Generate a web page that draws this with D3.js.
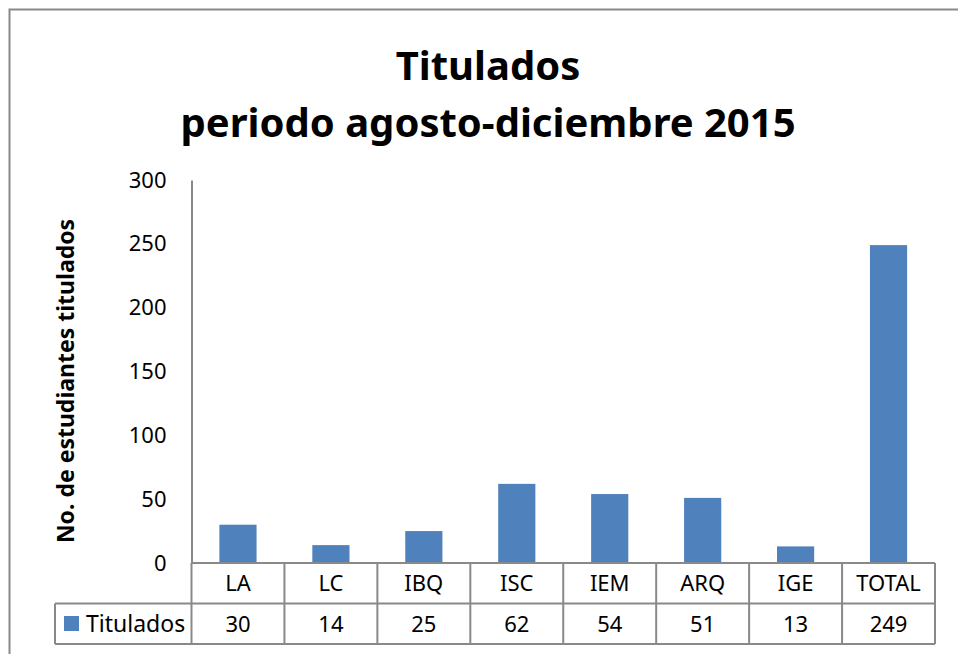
<!DOCTYPE html>
<html>
<head>
<meta charset="utf-8">
<script src="https://cdn.jsdelivr.net/npm/d3@7"></script>
<style>
  body { margin: 0; background: #fff; }
  text { font-family: "Noto Sans", sans-serif; fill: #000; }
</style>
</head>
<body>
<svg></svg>
<script>
// data
var categories = ["LA", "LC", "IBQ", "ISC", "IEM", "ARQ", "IGE", "TOTAL"];
var values = [30, 14, 25, 62, 54, 51, 13, 249];
var yTicks = [0, 50, 100, 150, 200, 250, 300];
var seriesName = "Titulados";
var titleLines = ["Titulados", "periodo agosto-diciembre 2015"];
var yLabel = "No. de estudiantes titulados";

var width = 958;
var height = 654;
var plotLeft = 191.5, plotRight = 935, plotTop = 180, plotBottom = 563;
var rowH = 40.5;
var barColor = "#4F81BD";
var lineColor = "#898989";

var svg = d3.select("svg")
            .attr("width", width)
            .attr("height", height);

// chart frame (runs off the right and bottom edge)
svg.append("rect")
    .attr("x", 9.5).attr("y", 9.5)
    .attr("width", 1000).attr("height", 700)
    .attr("fill", "none")
    .attr("stroke", lineColor)
    .attr("stroke-width", 2);

var xScale = d3.scaleBand()
                .domain(categories)
                .range([plotLeft, plotRight]);

var yScale = d3.scaleLinear()
                .domain([0, 300])
                .range([plotBottom, plotTop]);

// title
svg.selectAll(".title")
    .data(titleLines)
    .enter()
    .append("text")
        .attr("class", "title")
        .attr("x", 488)
        .attr("y", (d, i) => 80 + i * 57)
        .style("text-anchor", "middle")
        .style("font-weight", "bold")
        .style("font-size", "40px")
        .text(d => d);

// y axis
var yAxis = svg.append("g")
    .attr("transform", "translate(" + plotLeft + ", 0)")
    .call(d3.axisLeft(yScale).tickValues(yTicks).tickSize(0).tickPadding(25));
yAxis.select(".domain").attr("stroke", lineColor).attr("stroke-width", 2);
yAxis.selectAll("text")
    .style("font-family", "'Noto Sans', sans-serif")
    .style("font-size", "22px")
    .attr("fill", "#000");

svg.append("text")
    .attr("transform", "rotate(-90)")
    .attr("x", -381)
    .attr("y", 74)
    .style("text-anchor", "middle")
    .style("font-weight", "bold")
    .style("font-size", "23px")
    .text(yLabel);

// bars
var barW = xScale.bandwidth() * 0.4;
svg.selectAll(".bar")
    .data(values)
    .enter()
    .append("rect")
        .attr("class", "bar")
        .attr("x", (d, i) => xScale(categories[i]) + (xScale.bandwidth() - barW) / 2)
        .attr("y", d => yScale(d))
        .attr("width", barW)
        .attr("height", d => yScale(0) - yScale(d))
        .attr("fill", barColor);

// data table
var table = svg.append("g")
    .attr("stroke", lineColor)
    .attr("stroke-width", 2)
    .attr("fill", "none");

table.append("line")
    .attr("x1", plotLeft).attr("x2", plotRight)
    .attr("y1", plotBottom).attr("y2", plotBottom);
table.append("line")
    .attr("x1", 55).attr("x2", plotRight)
    .attr("y1", plotBottom + rowH).attr("y2", plotBottom + rowH);
table.append("line")
    .attr("x1", 55).attr("x2", plotRight)
    .attr("y1", plotBottom + 2 * rowH).attr("y2", plotBottom + 2 * rowH);
table.append("line")
    .attr("x1", 55).attr("x2", 55)
    .attr("y1", plotBottom + rowH).attr("y2", plotBottom + 2 * rowH);
table.selectAll(".vline")
    .data(categories.concat(["_end"]))
    .enter()
    .append("line")
        .attr("x1", (d, i) => i < categories.length ? xScale(d) : plotRight)
        .attr("x2", (d, i) => i < categories.length ? xScale(d) : plotRight)
        .attr("y1", plotBottom)
        .attr("y2", plotBottom + 2 * rowH);

svg.selectAll(".cat")
    .data(categories)
    .enter()
    .append("text")
        .attr("x", d => xScale(d) + xScale.bandwidth() / 2)
        .attr("y", plotBottom + rowH / 2 + 8)
        .style("text-anchor", "middle")
        .style("font-size", "22px")
        .text(d => d);

svg.selectAll(".val")
    .data(values)
    .enter()
    .append("text")
        .attr("x", (d, i) => xScale(categories[i]) + xScale.bandwidth() / 2)
        .attr("y", plotBottom + rowH * 1.5 + 8)
        .style("text-anchor", "middle")
        .style("font-size", "22px")
        .text(d => d);

// legend key
svg.append("rect")
    .attr("x", 64).attr("y", 616)
    .attr("width", 15).attr("height", 15)
    .attr("fill", barColor);
svg.append("text")
    .attr("x", 86)
    .attr("y", plotBottom + rowH * 1.5 + 8)
    .style("font-size", "23px")
    .text(seriesName);
</script>
</body>
</html>
